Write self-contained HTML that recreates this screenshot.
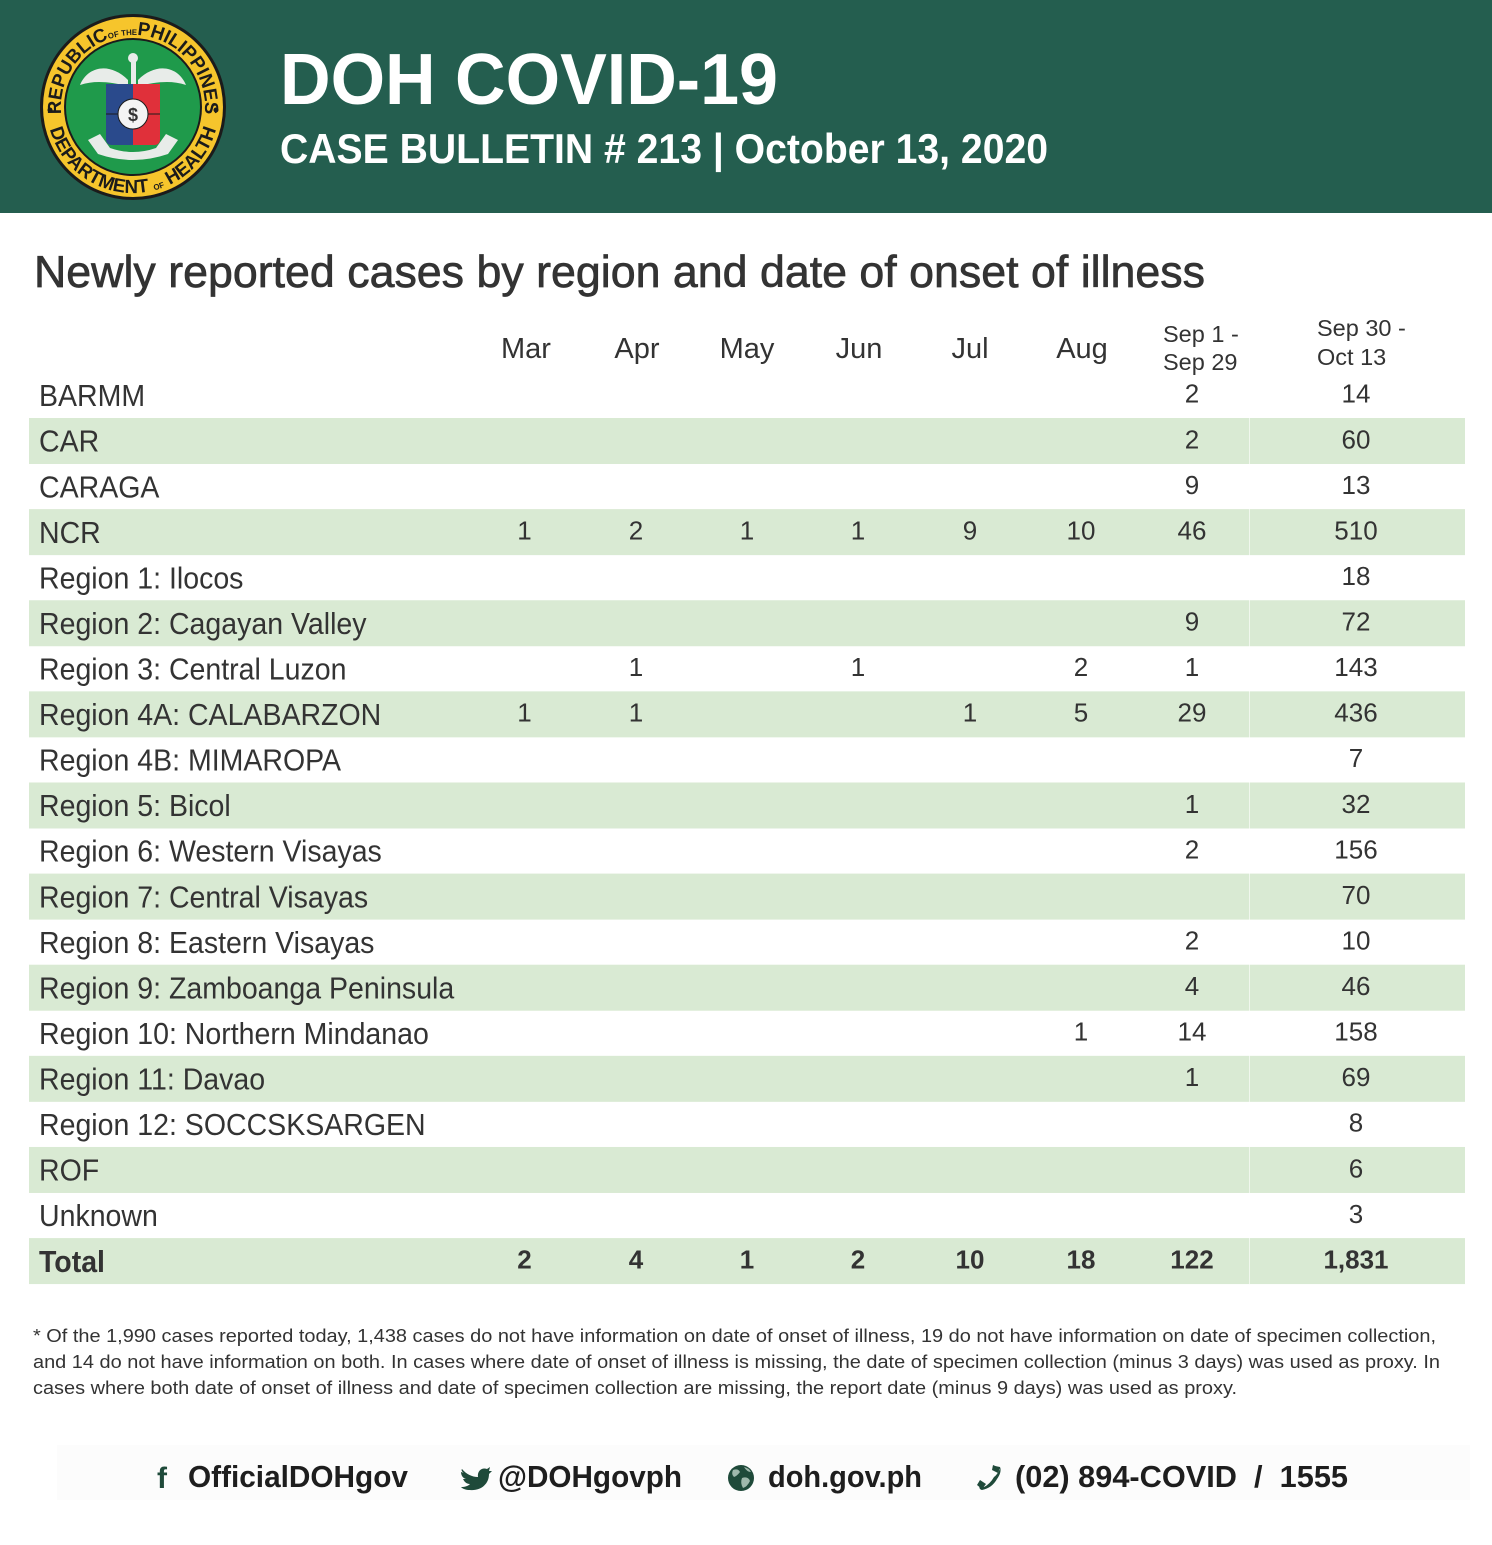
<!DOCTYPE html>
<html>
<head>
<meta charset="utf-8">
<style>
  html,body{margin:0;padding:0;background:#fff;}
  svg{display:block;}
  text{font-family:"Liberation Sans", Arial, sans-serif;}
</style>
</head>
<body>
<svg width="1492" height="1545" viewBox="0 0 1492 1545" xmlns="http://www.w3.org/2000/svg">
  <rect x="0" y="0" width="1492" height="1545" fill="#ffffff"/>
  <!-- Header -->
  <rect x="0" y="0" width="1492" height="213" fill="#245e4f"/>

  <!-- Logo -->
  <g>
    <circle cx="133" cy="107" r="93" fill="#1b1b1b"/>
    <circle cx="133" cy="107" r="90" fill="#f6c52c"/>
    <circle cx="133" cy="107" r="69" fill="#1b1b1b"/>
    <circle cx="133" cy="107" r="67" fill="#1f9a4b"/>
    <defs>
      <path id="topArc" d="M 62.1 119.5 A 72 72 0 1 1 203.9 119.5"/>
      <path id="botArc" d="M 48.3 121.9 A 86 86 0 0 0 217.7 121.9"/>
    </defs>
    <text font-size="19" font-weight="bold" fill="#1b1b1b">
      <textPath href="#topArc" startOffset="50%" text-anchor="middle" textLength="240" lengthAdjust="spacingAndGlyphs">REPUBLIC<tspan font-size="8">OF THE</tspan>PHILIPPINES</textPath>
    </text>
    <text font-size="19" font-weight="bold" fill="#1b1b1b">
      <textPath href="#botArc" startOffset="50%" text-anchor="middle" textLength="225" lengthAdjust="spacingAndGlyphs">DEPARTMENT <tspan font-size="8">OF</tspan> HEALTH</textPath>
    </text>
    <circle cx="50" cy="110" r="2.5" fill="#1b1b1b"/>
    <circle cx="216" cy="110" r="2.5" fill="#1b1b1b"/>
    <!-- wings -->
    <path d="M128 80 C110 62 88 66 80 85 C95 80 110 82 128 86 Z" fill="#e8ece9"/>
    <path d="M138 80 C156 62 178 66 186 85 C171 80 156 82 138 86 Z" fill="#e8ece9"/>
    <!-- caduceus top -->
    <rect x="131" y="56" width="5" height="30" fill="#e8ece9"/>
    <circle cx="133" cy="58" r="5" fill="#e8ece9"/>
    <!-- shield -->
    <path d="M106 84 L133 84 L133 145 L112 145 Q106 145 106 139 Z" fill="#2a4a8c"/>
    <path d="M133 84 L160 84 L160 139 Q160 145 154 145 L133 145 Z" fill="#e0303a"/>
    <line x1="106" y1="114" x2="160" y2="114" stroke="#1b1b1b" stroke-width="1"/>
    <circle cx="133" cy="114" r="15" fill="#f4f4f4" stroke="#1b1b1b" stroke-width="1"/>
    <text x="133" y="121" font-size="18" font-weight="bold" fill="#333" text-anchor="middle">$</text>
    <!-- banner -->
    <path d="M88 140 L100 134 L110 148 Q133 156 156 148 L166 134 L178 140 L168 154 Q133 166 98 154 Z" fill="#e8ece9"/>
  </g>

  <text x="280" y="104" font-size="72" font-weight="bold" fill="#ffffff" textLength="498" lengthAdjust="spacingAndGlyphs">DOH COVID-19</text>
  <text x="280" y="163" font-size="42" font-weight="bold" fill="#ffffff" textLength="768" lengthAdjust="spacingAndGlyphs">CASE BULLETIN # 213 | October 13, 2020</text>

  <!-- Title -->
  <text x="34" y="287" font-size="44.5" fill="#333333" stroke="#333333" stroke-width="0.7" textLength="1171" lengthAdjust="spacingAndGlyphs">Newly reported cases by region and date of onset of illness</text>

  <!-- Column headers -->
  <g font-size="29" fill="#333333" text-anchor="middle">
    <text x="526" y="358">Mar</text>
    <text x="637" y="358">Apr</text>
    <text x="747" y="358">May</text>
    <text x="859" y="358">Jun</text>
    <text x="970" y="358">Jul</text>
    <text x="1082" y="358">Aug</text>
  </g>
  <g font-size="23.5" fill="#333333">
    <text x="1163" y="342">Sep 1 -</text>
    <text x="1163" y="370">Sep 29</text>
    <text x="1317" y="336">Sep 30 -</text>
    <text x="1317" y="365">Oct 13</text>
  </g>

  <!-- Green stripes -->
  <g fill="#d9ead3">
    <rect x="29" y="418" width="1436" height="46"/>
    <rect x="29" y="509.12" width="1436" height="46"/>
    <rect x="29" y="600.24" width="1436" height="46"/>
    <rect x="29" y="691.36" width="1436" height="46"/>
    <rect x="29" y="782.48" width="1436" height="46"/>
    <rect x="29" y="873.6" width="1436" height="46"/>
    <rect x="29" y="964.72" width="1436" height="46"/>
    <rect x="29" y="1055.84" width="1436" height="46"/>
    <rect x="29" y="1146.96" width="1436" height="46"/>
    <rect x="29" y="1238.08" width="1436" height="46"/>
  </g>
  <line x1="1249.5" y1="418" x2="1249.5" y2="1284" stroke="#ffffff" stroke-opacity="0.6" stroke-width="1"/>

  <!-- Row labels -->
  <g transform="translate(39,0) scale(0.935,1)" font-size="30.5" fill="#333333">
    <text x="0" y="406.1">BARMM</text>
    <text x="0" y="451.7">CAR</text>
    <text x="0" y="497.3">CARAGA</text>
    <text x="0" y="542.8">NCR</text>
    <text x="0" y="588.4">Region 1: Ilocos</text>
    <text x="0" y="633.9">Region 2: Cagayan Valley</text>
    <text x="0" y="679.5">Region 3: Central Luzon</text>
    <text x="0" y="725.1">Region 4A: CALABARZON</text>
    <text x="0" y="770.6">Region 4B: MIMAROPA</text>
    <text x="0" y="816.2">Region 5: Bicol</text>
    <text x="0" y="861.7">Region 6: Western Visayas</text>
    <text x="0" y="907.3">Region 7: Central Visayas</text>
    <text x="0" y="952.9">Region 8: Eastern Visayas</text>
    <text x="0" y="998.4">Region 9: Zamboanga Peninsula</text>
    <text x="0" y="1044">Region 10: Northern Mindanao</text>
    <text x="0" y="1089.5">Region 11: Davao</text>
    <text x="0" y="1135.1">Region 12: SOCCSKSARGEN</text>
    <text x="0" y="1180.7">ROF</text>
    <text x="0" y="1226.2">Unknown</text>
    <text x="0" y="1271.8" font-weight="bold">Total</text>
  </g>

  <!-- Numbers -->
  <g font-size="26" fill="#333333" text-anchor="middle">
    <text x="1192" y="402.7">2</text><text x="1356" y="402.7">14</text>
    <text x="1192" y="448.3">2</text><text x="1356" y="448.3">60</text>
    <text x="1192" y="493.9">9</text><text x="1356" y="493.9">13</text>
    <text x="524.5" y="539.4">1</text><text x="636" y="539.4">2</text><text x="747" y="539.4">1</text><text x="858" y="539.4">1</text><text x="970" y="539.4">9</text><text x="1081" y="539.4">10</text><text x="1192" y="539.4">46</text><text x="1356" y="539.4">510</text>
    <text x="1356" y="585">18</text>
    <text x="1192" y="630.5">9</text><text x="1356" y="630.5">72</text>
    <text x="636" y="676.1">1</text><text x="858" y="676.1">1</text><text x="1081" y="676.1">2</text><text x="1192" y="676.1">1</text><text x="1356" y="676.1">143</text>
    <text x="524.5" y="721.7">1</text><text x="636" y="721.7">1</text><text x="970" y="721.7">1</text><text x="1081" y="721.7">5</text><text x="1192" y="721.7">29</text><text x="1356" y="721.7">436</text>
    <text x="1356" y="767.2">7</text>
    <text x="1192" y="812.8">1</text><text x="1356" y="812.8">32</text>
    <text x="1192" y="858.3">2</text><text x="1356" y="858.3">156</text>
    <text x="1356" y="903.9">70</text>
    <text x="1192" y="949.5">2</text><text x="1356" y="949.5">10</text>
    <text x="1192" y="995">4</text><text x="1356" y="995">46</text>
    <text x="1081" y="1040.6">1</text><text x="1192" y="1040.6">14</text><text x="1356" y="1040.6">158</text>
    <text x="1192" y="1086.1">1</text><text x="1356" y="1086.1">69</text>
    <text x="1356" y="1131.7">8</text>
    <text x="1356" y="1177.3">6</text>
    <text x="1356" y="1222.8">3</text>
    <g font-weight="bold">
      <text x="524.5" y="1268.4">2</text><text x="636" y="1268.4">4</text><text x="747" y="1268.4">1</text><text x="858" y="1268.4">2</text><text x="970" y="1268.4">10</text><text x="1081" y="1268.4">18</text><text x="1192" y="1268.4">122</text><text x="1356" y="1268.4">1,831</text>
    </g>
  </g>

  <!-- Footnote -->
  <g font-size="18" fill="#333333">
    <text x="33" y="1342" textLength="1403" lengthAdjust="spacingAndGlyphs">* Of the 1,990 cases reported today, 1,438 cases do not have information on date of onset of illness, 19 do not have information on date of specimen collection,</text>
    <text x="33" y="1368" textLength="1407" lengthAdjust="spacingAndGlyphs">and 14 do not have information on both. In cases where date of onset of illness is missing, the date of specimen collection (minus 3 days) was used as proxy. In</text>
    <text x="33" y="1394" textLength="1204" lengthAdjust="spacingAndGlyphs">cases where both date of onset of illness and date of specimen collection are missing, the report date (minus 9 days) was used as proxy.</text>
  </g>

  <!-- Footer band -->
  <rect x="57" y="1445" width="1413" height="55" fill="#fcfcfc"/>
  <g font-size="31" font-weight="bold" fill="#1e1e1e">
    <text x="157" y="1488" fill="#1f4a3a" font-size="30">f</text>
    <text x="188" y="1487" textLength="220" lengthAdjust="spacingAndGlyphs">OfficialDOHgov</text>
    <path d="M462 1469 C466 1474 472 1477 478 1477 C477 1471 482 1467 487 1469 L490 1467 L489 1471 L492 1471 L489 1474 C489 1484 481 1491 470 1490 C466 1490 463 1489 461 1487 C465 1487 468 1486 470 1484 C466 1484 464 1481 463 1479 L466 1479 C462 1478 461 1474 461 1472 L464 1473 C462 1472 461 1470 462 1469 Z" fill="#1f4a3a"/>
    <text x="498" y="1487" textLength="184" lengthAdjust="spacingAndGlyphs">@DOHgovph</text>
    <circle cx="741" cy="1478" r="13" fill="#1f4a3a"/>
    <path d="M733 1470 Q738 1468 740 1472 Q737 1476 734 1477 Q731 1474 733 1470 Z M742 1478 Q748 1476 750 1481 Q747 1487 743 1488 Q740 1483 742 1478 Z M744 1467 Q749 1468 751 1472 Q747 1472 744 1467 Z" fill="#9fb8ac"/>
    <text x="768" y="1487" textLength="154" lengthAdjust="spacingAndGlyphs">doh.gov.ph</text>
    <path d="M995 1466 L1000 1469 Q997 1475 994 1477 Q990 1484 984 1487 L980 1484 Q978 1489 982 1490 Q992 1488 997 1479 Q1002 1472 1000 1467 Z" fill="#1f4a3a"/>
    <path d="M993 1465 L1000 1468 L998 1473 L992 1470 Z M980 1480 L986 1484 L982 1489 L977 1485 Z" fill="#1f4a3a"/>
    <text x="1015" y="1487" textLength="333" lengthAdjust="spacingAndGlyphs" xml:space="preserve">(02) 894-COVID  /  1555</text>
  </g>
</svg>
</body>
</html>
